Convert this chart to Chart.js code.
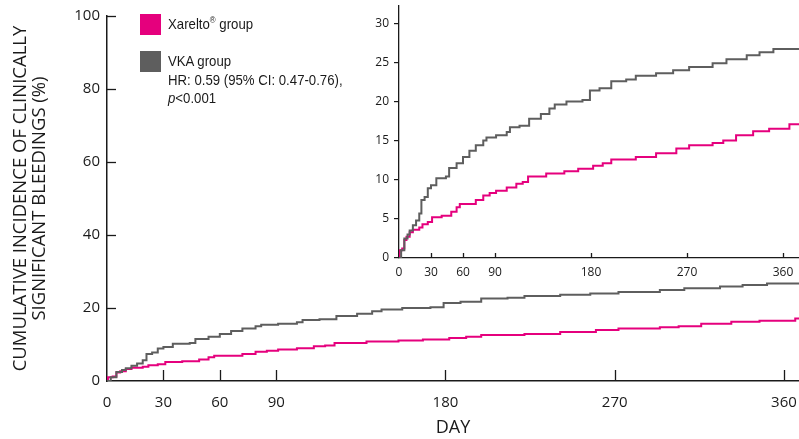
<!DOCTYPE html>
<html><head><meta charset="utf-8">
<script src="https://cdn.jsdelivr.net/npm/chart.js@4"></script>
<style>
html,body{margin:0;padding:0;background:#fff;}
#wrap{position:relative;width:799px;height:439px;overflow:hidden;}
#main{position:absolute;left:0;top:0;}
#inset{position:absolute;left:340px;top:0;}
.sq{position:absolute;width:21px;height:21px;}
.lg{position:absolute;left:168px;font-family:"Liberation Sans",Arial,sans-serif;font-size:15px;color:#1a1a1a;white-space:nowrap;line-height:18px;transform:scaleX(0.88);transform-origin:0 0;}
.lg sup{font-size:9px;vertical-align:6px;line-height:0;}
</style></head>
<body><div id="wrap">
<canvas id="main" width="799" height="439"></canvas>
<canvas id="inset" width="459" height="290"></canvas>
<div class="sq" style="left:140px;top:14px;background:#e5007d"></div>
<div class="sq" style="left:140px;top:51px;background:#5e5e5e"></div>
<div class="lg" style="top:15px">Xarelto<sup>®</sup> group</div>
<div class="lg" style="top:52px">VKA group</div>
<div class="lg" style="top:71px">HR: 0.59 (95% CI: 0.47-0.76),</div>
<div class="lg" style="top:89px"><i>p</i>&lt;0.001</div>
</div>
<script>
const seriesNames = ['Xarelto® group', 'VKA group'];
const xareltoDays = [0, 0.5, 3, 5, 7, 10, 13, 19, 22, 27, 31, 40, 49, 54, 57, 72, 79, 85, 91, 101, 110, 116, 121, 138, 155, 168, 182, 191, 199, 222, 241, 260, 272, 294, 304, 316, 332, 347, 366, 375];
const xareltoPct  = [0, 1.0, 1.2, 2.3, 2.7, 3.3, 3.6, 3.9, 4.3, 4.6, 5.2, 5.4, 5.9, 6.5, 6.9, 7.4, 8.0, 8.3, 8.6, 9.0, 9.5, 9.7, 10.4, 10.8, 11.1, 11.4, 11.8, 12.1, 12.6, 12.9, 13.4, 14.0, 14.4, 14.7, 15.0, 15.7, 16.2, 16.5, 17.1, 17.2];
const vkaDays = [0, 2, 5, 8, 10, 13, 16, 19, 21, 24, 27, 30, 35, 44, 47, 54, 60, 66, 72, 79, 82, 91, 101, 104, 113, 122, 133, 141, 146, 157, 172, 179, 188, 199, 213, 222, 241, 257, 272, 294, 307, 326, 338, 351, 375];
const vkaPct  = [0, 1.0, 2.5, 3.0, 3.5, 4.2, 4.8, 5.7, 7.4, 7.8, 8.9, 9.3, 10.2, 10.4, 11.5, 12.1, 12.9, 13.7, 14.4, 15.0, 15.4, 15.7, 16.1, 16.7, 16.9, 17.8, 18.4, 19.1, 19.6, 20.0, 20.2, 21.4, 21.7, 22.6, 22.8, 23.3, 23.6, 24.0, 24.4, 24.9, 25.4, 25.9, 26.3, 26.7, 26.7];
const dayTicks = [0, 30, 60, 90, 180, 270, 360];
const mainPctTicks = [0, 20, 40, 60, 80, 100];
const insetPctTicks = [0, 5, 10, 15, 20, 25, 30];
const yTitleLines = ['CUMULATIVE INCIDENCE OF CLINICALLY', 'SIGNIFICANT BLEEDINGS (%)'];
const xTitle = 'DAY';

const MAGENTA = '#e5007d', GREY = '#5e5e5e', INK = '#1a1a1a';
const FONT = '"Open Sans", "Noto Sans", sans-serif';

function pts(xs, ys){ return xs.map((x,i)=>({x:x, y:ys[i]})); }
function datasets(lw){
  return [
    {label: seriesNames[1], data: pts(vkaDays, vkaPct), borderColor: GREY, borderWidth: lw, stepped: true, pointRadius: 0, fill: false},
    {label: seriesNames[0], data: pts(xareltoDays, xareltoPct), borderColor: MAGENTA, borderWidth: lw, stepped: true, pointRadius: 0, fill: false}
  ];
}
function setTicks(arr){ return function(scale){ scale.ticks = arr.map(v=>({value:v})); }; }
function noPad(s){ s.paddingLeft = 0; s.paddingRight = 0; s.paddingTop = 0; s.paddingBottom = 0; }

// Inward tick marks drawn from the library's scales
function inwardTicks(opts){
  return {
    id: 'inwardTicks',
    afterDatasetsDraw(chart){
      const ctx = chart.ctx, a = chart.chartArea;
      ctx.save();
      ctx.strokeStyle = INK; ctx.lineWidth = 1.3;
      if (opts.x){
        const sx = chart.scales.x;
        dayTicks.forEach(v=>{ if(v===0) return; const px = Math.round(sx.getPixelForValue(v))+0.5;
          ctx.beginPath(); ctx.moveTo(px, a.bottom); ctx.lineTo(px, a.bottom - opts.x); ctx.stroke(); });
      }
      if (opts.y){
        const sy = chart.scales.y;
        mainPctTicks.forEach(v=>{ if(v===0) return; const py = Math.round(sy.getPixelForValue(v))+0.5;
          ctx.beginPath(); ctx.moveTo(a.left, py); ctx.lineTo(a.left + opts.y, py); ctx.stroke(); });
      }
      ctx.restore();
    }
  };
}

const yTitlePlugin = {
  id: 'yTitle',
  afterDraw(chart){
    const ctx = chart.ctx;
    const cy = (chart.chartArea.top + chart.chartArea.bottom) / 2;
    ctx.save();
    ctx.fillStyle = INK;
    ctx.font = '18.5px ' + FONT;
    ctx.textBaseline = 'middle';
    ctx.textAlign = 'center';
    ctx.save(); ctx.translate(21, cy); ctx.rotate(-Math.PI/2); ctx.fillText(yTitleLines[0], 0, 0); ctx.restore();
    ctx.save(); ctx.translate(40, cy); ctx.rotate(-Math.PI/2); ctx.fillText(yTitleLines[1], 0, 0); ctx.restore();
    ctx.restore();
  }
};

new Chart(document.getElementById('main'), {
  type: 'line',
  data: { datasets: datasets(2) },
  options: {
    responsive: false, animation: false, devicePixelRatio: 1,
    layout: { padding: { top: 16, right: 0, left: 0, bottom: 0 } },
    plugins: { legend: { display: false }, tooltip: { enabled: false } },
    scales: {
      x: {
        type: 'linear', min: 0, max: 368,
        afterBuildTicks: setTicks(dayTicks),
        afterFit(s){ s.height = 58; noPad(s); },
        grid: { display: false, drawTicks: false },
        border: { display: true, color: INK, width: 1.5 },
        ticks: { font: { family: FONT, size: 15 }, color: INK, padding: 13, maxRotation: 0, autoSkip: false },
        title: { display: true, text: xTitle, font: { family: FONT, size: 18 }, color: INK, padding: { top: 5, bottom: 0 } }
      },
      y: {
        min: 0, max: 100,
        afterBuildTicks: setTicks(mainPctTicks),
        afterFit(s){ s.width = 107; noPad(s); },
        grid: { display: false, drawTicks: false },
        border: { display: true, color: INK, width: 1.5 },
        ticks: { font: { family: FONT, size: 15 }, color: INK, padding: 7 }
      }
    }
  },
  plugins: [inwardTicks({x: 11, y: 9}), yTitlePlugin]
});

new Chart(document.getElementById('inset'), {
  type: 'line',
  data: { datasets: datasets(2) },
  options: {
    responsive: false, animation: false, devicePixelRatio: 1,
    layout: { padding: { top: 6, right: 0, left: 0, bottom: 0 } },
    plugins: { legend: { display: false }, tooltip: { enabled: false } },
    scales: {
      x: {
        type: 'linear', min: 0, max: 375,
        afterBuildTicks: setTicks(dayTicks),
        afterFit(s){ s.height = 32; noPad(s); },
        grid: { display: false, drawTicks: false },
        border: { display: true, color: INK, width: 1.3 },
        ticks: { font: { family: FONT, size: 12 }, color: INK, padding: 7, maxRotation: 0, autoSkip: false }
      },
      y: {
        min: 0, max: 32.2,
        afterBuildTicks: setTicks(insetPctTicks),
        afterFit(s){ s.width = 59; noPad(s); },
        grid: { display: true, drawOnChartArea: false, drawTicks: true, tickLength: 5, color: INK, lineWidth: 1.2 },
        border: { display: true, color: INK, width: 1.3 },
        ticks: { font: { family: FONT, size: 12 }, color: INK, padding: 5 }
      }
    }
  },
  plugins: [inwardTicks({x: 5})]
});
</script>
</body></html>
